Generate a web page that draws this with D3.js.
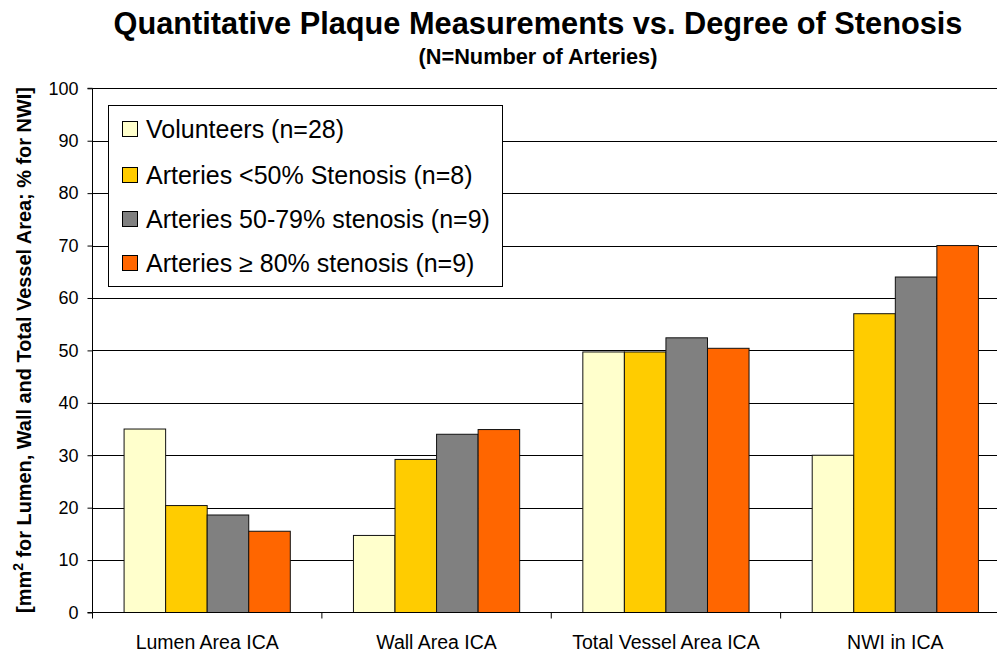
<!DOCTYPE html>
<html>
<head>
<meta charset="utf-8">
<script src="https://cdn.jsdelivr.net/npm/d3@7/dist/d3.min.js"></script>
<style>
  html, body { margin: 0; padding: 0; background: #fff; }
  svg { display: block; font-family: "Liberation Sans", Arial, sans-serif; }
</style>
</head>
<body>
<svg id="chart" width="997" height="652"></svg>
<script>
// ---- Data ----
const categories = ["Lumen Area ICA", "Wall Area ICA", "Total Vessel Area ICA", "NWI in ICA"];
const seriesNames = [
  "Volunteers (n=28)",
  "Arteries <50% Stenosis (n=8)",
  "Arteries 50-79% stenosis (n=9)",
  "Arteries \u2265 80% stenosis (n=9)"
];
const volunteers = [35.0, 14.7, 49.7, 30.0];
const stenosisLt50 = [20.4, 29.2, 49.7, 57.0];
const stenosis5079 = [18.6, 34.0, 52.4, 64.0];
const stenosisGe80 = [15.5, 34.9, 50.4, 70.0];
const yTicks = [0, 10, 20, 30, 40, 50, 60, 70, 80, 90, 100];
const seriesColors = ["#FFFFCC", "#FFCC00", "#808080", "#FF6600"];

const seriesValues = [volunteers, stenosisLt50, stenosis5079, stenosisGe80];

// ---- Layout ----
const svg = d3.select("#chart");
const plotLeft = 92.5, plotRight = 1010, plotTop = 88.3, plotBottom = 612.5;

const x0 = d3.scaleBand().domain(categories).range([plotLeft, plotRight]).paddingInner(0).paddingOuter(0);
const x1 = d3.scaleBand().domain(d3.range(seriesNames.length)).range([0, x0.bandwidth()])
  .paddingInner(0).paddingOuter(0.76);
const y = d3.scaleLinear().domain([0, 100]).range([plotBottom, plotTop]);

function fit(sel, target) {
  const node = sel.node();
  const fs = parseFloat(sel.attr("font-size"));
  const len = node.getComputedTextLength();
  sel.attr("font-size", (fs * target / len).toFixed(2));
}

// gridlines
svg.append("g").selectAll("line").data(yTicks.filter(d => d > 0)).join("line")
  .attr("x1", plotLeft).attr("x2", 997)
  .attr("y1", d => Math.round(y(d)) + 0.5).attr("y2", d => Math.round(y(d)) + 0.5)
  .attr("stroke", "#000").attr("stroke-width", 1);

// bars
const groups = svg.append("g").selectAll("g").data(categories).join("g")
  .attr("transform", c => `translate(${x0(c)},0)`);
groups.selectAll("rect")
  .data((c, ci) => seriesValues.map((vals, si) => ({ si, v: vals[ci] })))
  .join("rect")
  .attr("x", d => x1(d.si))
  .attr("width", x1.bandwidth())
  .attr("y", d => y(d.v))
  .attr("height", d => y(0) - y(d.v))
  .attr("fill", d => seriesColors[d.si])
  .attr("stroke", "#111").attr("stroke-width", 1);

// y axis
const yAxis = d3.axisLeft(y).tickValues(yTicks).tickSize(5).tickPadding(9).tickFormat(d3.format("d"));
const ya = svg.append("g").attr("transform", `translate(${plotLeft},0)`).call(yAxis);
ya.select(".domain").attr("stroke", "#000").attr("d", `M-5,${plotTop}H0V${plotBottom}H-5`);
ya.selectAll(".tick line").attr("stroke", "#000");
ya.selectAll(".tick text").attr("font-size", 18).attr("fill", "#000")
  .attr("font-family", "Liberation Sans, Arial, sans-serif");

// x axis
const xa = svg.append("g").attr("transform", `translate(0,${plotBottom})`);
xa.append("line").attr("x1", plotLeft).attr("x2", 997).attr("y1", 0).attr("y2", 0).attr("stroke", "#000");
xa.selectAll("line.tk").data(d3.range(categories.length + 1)).join("line").attr("class", "tk")
  .attr("x1", i => plotLeft + i * x0.step()).attr("x2", i => plotLeft + i * x0.step())
  .attr("y1", 0).attr("y2", 6).attr("stroke", "#000");
xa.selectAll("text").data(categories).join("text")
  .attr("x", c => x0(c) + x0.bandwidth() / 2)
  .attr("y", 36)
  .attr("text-anchor", "middle")
  .attr("font-size", 19.5)
  .attr("fill", "#000")
  .text(c => c);

// title
const t1 = svg.append("text").attr("x", 538).attr("y", 34).attr("text-anchor", "middle")
  .attr("font-weight", "bold").attr("font-size", 28).attr("fill", "#000")
  .text("Quantitative Plaque Measurements vs. Degree of Stenosis");
fit(t1, 849);
const t2 = svg.append("text").attr("x", 538).attr("y", 64).attr("text-anchor", "middle")
  .attr("font-weight", "bold").attr("font-size", 16).attr("fill", "#000")
  .text("(N=Number of Arteries)");
fit(t2, 239);

// y title
const yt = svg.append("text").attr("transform", "translate(31,350) rotate(-90)")
  .attr("text-anchor", "middle").attr("font-weight", "bold").attr("font-size", 17).attr("fill", "#000");
yt.append("tspan").text("[mm");
yt.append("tspan").attr("baseline-shift", "super").attr("font-size", "70%").text("2");
yt.append("tspan").text(" for Lumen, Wall and Total Vessel Area; % for NWI]");
fit(yt, 526);

// legend
const lg = svg.append("g");
lg.append("rect").attr("x", 108.5).attr("y", 105.5).attr("width", 394).attr("height", 181)
  .attr("fill", "#fff").attr("stroke", "#000").attr("stroke-width", 1);
const rowY = [129, 175, 219, 263];
const items = lg.selectAll("g.item").data(seriesNames).join("g").attr("class", "item")
  .attr("transform", (d, i) => `translate(0,${rowY[i]})`);
items.append("rect").attr("x", 122.5).attr("y", -7.5).attr("width", 15).attr("height", 15)
  .attr("fill", (d, i) => seriesColors[i]).attr("stroke", "#000");
const ltexts = items.append("text").attr("x", 146).attr("y", 8.5).attr("font-size", 24).attr("fill", "#000")
  .text(d => d);
// fit font size based on the widest label
const widest = ltexts.filter((d, i) => i === 2);
const w = widest.node().getComputedTextLength();
ltexts.attr("font-size", (24 * 344 / w).toFixed(2));
</script>
</body>
</html>
